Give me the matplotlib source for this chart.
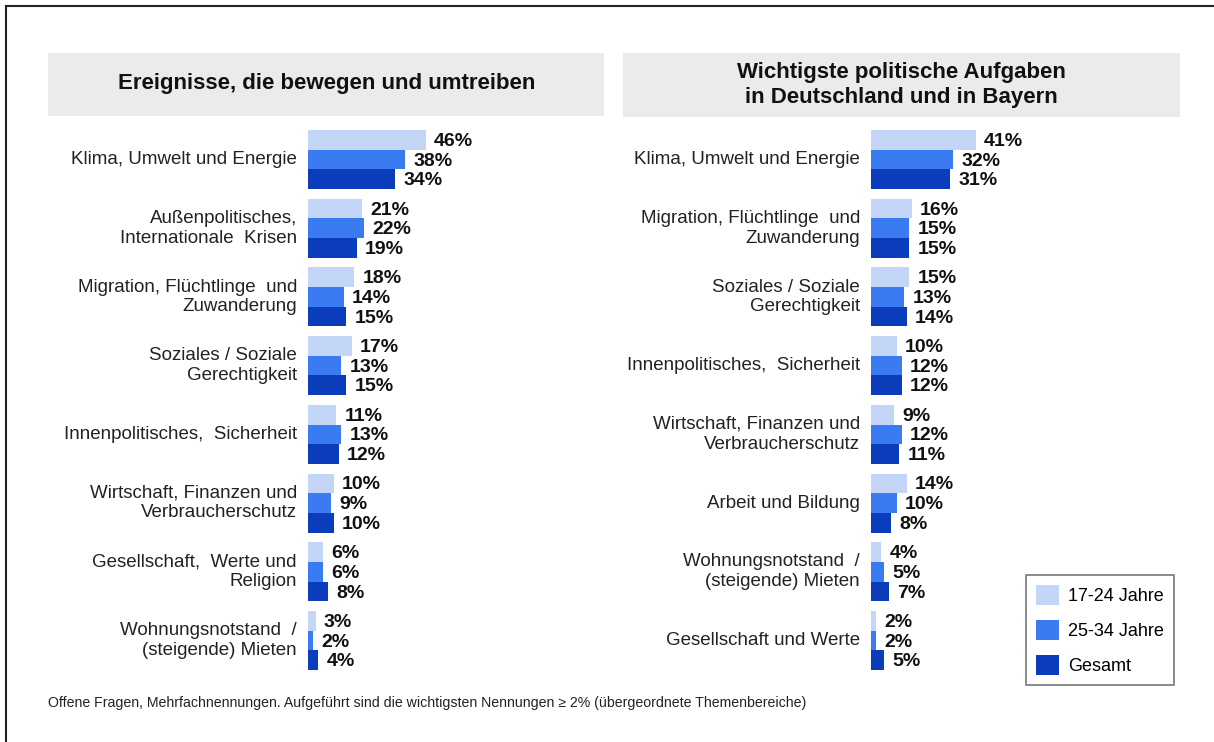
import matplotlib.pyplot as plt
import numpy as np
from matplotlib.patches import Rectangle, Patch
from matplotlib.lines import Line2D

plt.rcParams['font.family'] = ['Liberation Sans', 'DejaVu Sans']

left_cats = ["Klima, Umwelt und Energie", "Außenpolitisches,\nInternationale  Krisen",
             "Migration, Flüchtlinge  und\nZuwanderung", "Soziales / Soziale\nGerechtigkeit",
             "Innenpolitisches,  Sicherheit", "Wirtschaft, Finanzen und\nVerbraucherschutz",
             "Gesellschaft,  Werte und\nReligion", "Wohnungsnotstand  /\n(steigende) Mieten"]
left_1724 = [46, 21, 18, 17, 11, 10, 6, 3]
left_2534 = [38, 22, 14, 13, 13, 9, 6, 2]
left_ges = [34, 19, 15, 15, 12, 10, 8, 4]

right_cats = ["Klima, Umwelt und Energie", "Migration, Flüchtlinge  und\nZuwanderung",
              "Soziales / Soziale\nGerechtigkeit", "Innenpolitisches,  Sicherheit",
              "Wirtschaft, Finanzen und\nVerbraucherschutz", "Arbeit und Bildung",
              "Wohnungsnotstand  /\n(steigende) Mieten", "Gesellschaft und Werte"]
right_1724 = [41, 16, 15, 10, 9, 14, 4, 2]
right_2534 = [32, 15, 13, 12, 12, 10, 5, 2]
right_ges = [31, 15, 14, 12, 11, 8, 7, 5]

series_names = ["17-24 Jahre", "25-34 Jahre", "Gesamt"]
colors = ["#C3D6F8", "#3B7BF2", "#0A3CBC"]

W, H = 1214, 742
fig = plt.figure(figsize=(W / 100, H / 100), dpi=100)

px_per_pct = 2.56
pitch = 3.49


def fx(x):
    return x / W


def fy(y):
    return 1 - y / H


def panel(x0, width_px, cats, groups):
    top, bottom = 130, 670
    ax = fig.add_axes([fx(x0), fy(bottom), fx(width_px), (bottom - top) / H])
    n = len(cats)
    base = np.arange(n) * pitch
    for k, vals in enumerate(groups):
        y = base + k + 0.5
        ax.barh(y, vals, height=1.0, color=colors[k], edgecolor='none')
        for yy, v in zip(y, vals):
            ax.text(v + 3.2, yy + 0.08, f"{v}%", va='center', ha='left',
                    fontsize=14, fontweight='bold', color='#111111')
    ax.set_xlim(0, width_px / px_per_pct)
    ax.set_ylim((n - 1) * pitch + 3, 0)
    ax.axis('off')
    for c, yb in zip(cats, base):
        ax.text(-4.3, yb + 1.5, c, ha='right', va='center', fontsize=13.5,
                color='#222222', linespacing=1.22)
    return ax


panel(308, 200, left_cats, [left_1724, left_2534, left_ges])
panel(871, 160, right_cats, [right_1724, right_2534, right_ges])

# header boxes
fig.patches.append(Rectangle((fx(48), fy(116)), fx(556), 63 / H, transform=fig.transFigure,
                             facecolor='#EBEBEB', edgecolor='none', zorder=0))
fig.patches.append(Rectangle((fx(623), fy(117)), fx(557), 64 / H, transform=fig.transFigure,
                             facecolor='#EBEBEB', edgecolor='none', zorder=0))
fig.text(fx(327), fy(84), "Ereignisse, die bewegen und umtreiben", ha='center', va='center',
         fontsize=16, fontweight='bold', color='#111111')
fig.text(fx(901), fy(85), "Wichtigste politische Aufgaben\nin Deutschland und in Bayern",
         ha='center', va='center', fontsize=16, fontweight='bold', color='#111111',
         linespacing=1.22)

# legend
handles = [Patch(facecolor=c, edgecolor='none') for c in colors]
leg = fig.legend(handles, series_names, loc='upper left',
                 bbox_to_anchor=(fx(1026), fy(575)), fontsize=13, frameon=True,
                 fancybox=False, edgecolor='#555555', handlelength=1.3, handleheight=1.3,
                 labelspacing=0.85, borderpad=0.55, borderaxespad=0, handletextpad=0.5)
leg.get_frame().set_linewidth(1.2)

fig.text(fx(48), fy(703), "Offene Fragen, Mehrfachnennungen. Aufgeführt sind die wichtigsten "
         "Nennungen ≥ 2% (übergeordnete Themenbereiche)", ha='left', va='center',
         fontsize=10.2, color='#222222')

# outer frame lines
fig.add_artist(Line2D([fx(6), fx(6)], [0, fy(6)], color='#222222', lw=1.5))
fig.add_artist(Line2D([fx(6), 1], [fy(6), fy(6)], color='#222222', lw=1.5))

fig.savefig("out.png", dpi=100)
